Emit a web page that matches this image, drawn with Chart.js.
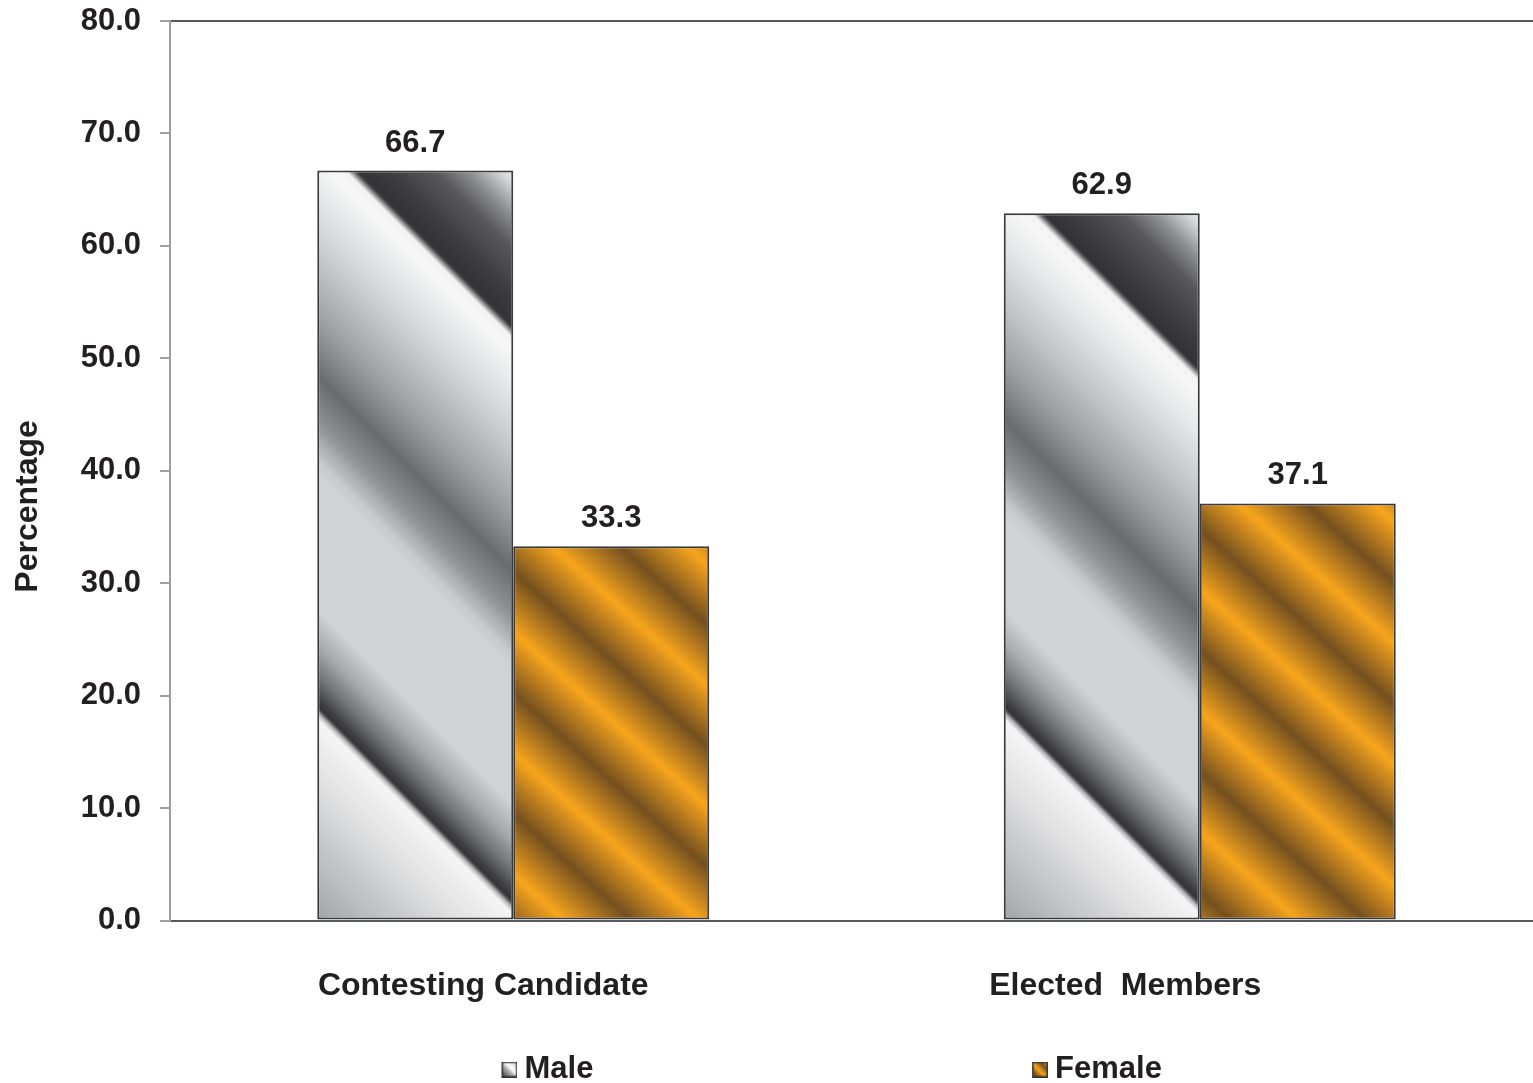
<!DOCTYPE html>
<html><head><meta charset="utf-8">
<script src="https://cdn.jsdelivr.net/npm/chart.js@4/dist/chart.umd.min.js"></script>
<style>html,body{margin:0;padding:0;background:#fff;overflow:hidden}#wrap{width:1543px;height:1083px}</style>
</head><body><div id="wrap"><canvas id="c" width="1543" height="1083"></canvas></div>
<script>
// ---- data ----
const categories = ['Contesting Candidate', 'Elected  Members'];
const seriesNames = ['Male', 'Female'];
const maleValues = [66.7, 62.9];
const femaleValues = [33.3, 37.1];
const yTickValues = [0, 10, 20, 30, 40, 50, 60, 70, 80];

// ---- style constants ----
const FONT = '"Liberation Sans", Arial, sans-serif';
const TEXT = '#231f20';
const CAT_PCT = 0.571, BAR_PCT = 1.0;
const X_LABEL_PAD = [0, 10];
const LEGEND_PAD = [46, 5];
const MALE_TOP = [[-196,'#ededed'],[-180,'#d2d3d5'],[-150,'#8e8f91'],[-117,'#58585a'],[-70,'#3d3d3f'],[-40,'#333335'],[-37,'#4d4d4f'],[-33,'#9a9a9c'],[-28,'#f2f2f2'],[-15,'#f7f7f7'],[30,'#e4e5e6'],[90,'#c3c4c6'],[150,'#9b9da0'],[205,'#6a6b6e'],[250,'#8e9093'],[290,'#c9cacc'],[305,'#d1d2d4']];
const MALE_BOTTOM = [[-312,'#d1d2d4'],[-277,'#a9aaac'],[-247,'#76777a'],[-222,'#404042'],[-215,'#333335'],[-212,'#58585a'],[-208,'#b5b5b7'],[-202,'#f5f5f5'],[-147,'#e3e3e4'],[-67,'#c0c1c3'],[0,'#a2a3a5']];

Chart.defaults.font.family = FONT;
Chart.defaults.color = TEXT;

function barRect(ctx) {
  const chart = ctx.chart, xs = chart.scales.x, ys = chart.scales.y;
  if (!xs || !ys || ctx.dataIndex === undefined) return null;
  const n = chart.data.labels.length, nd = chart.data.datasets.length;
  const catW = (xs.right - xs.left) / n * CAT_PCT;
  const slot = catW / nd, bw = slot * BAR_PCT;
  const cx = xs.getPixelForValue(ctx.dataIndex);
  const L = cx - catW / 2 + ctx.datasetIndex * slot + (slot - bw) / 2;
  const T = ys.getPixelForValue(ctx.raw), B = ys.getPixelForValue(0);
  return {L, T, W: bw, H: B - T};
}
function maleGradient(c, L, T, W, H) {
  const g = c.createLinearGradient(L + W, T, L + W - (H + W) / 2, T + (H + W) / 2);
  let last = -1;
  const add = (s, col) => { let o = (s + W) / (H + W); o = Math.min(1, Math.max(0, o)); if (o >= last) { g.addColorStop(o, col); last = o; } };
  MALE_TOP.forEach(([s, col]) => { if (s < H - 330) add(s, col); });
  MALE_BOTTOM.forEach(([s, col]) => add(H + s, col));
  return g;
}
function femaleGradient(c, L, T, W, H) {
  const ang = 42 * Math.PI / 180, nx = -Math.sin(ang), ny = Math.cos(ang);
  const x0 = L + W, y0 = T;
  const pMin = -150, pMax = Math.sin(ang) * W + Math.cos(ang) * H + 150;
  const g = c.createLinearGradient(x0 + nx * pMin, y0 + ny * pMin, x0 + nx * pMax, y0 + ny * pMax);
  const period = 90, phase = 60;
  const stops = [];
  for (let k = -4; k < 40; k++) {
    stops.push([phase + k * period, '#74501f']);
    stops.push([phase + k * period + period / 2, '#f8a51c']);
  }
  stops.forEach(([p, col]) => { const o = (p - pMin) / (pMax - pMin); if (o >= 0 && o <= 1) g.addColorStop(o, col); });
  return g;
}
function makeIcon(kind) {
  const cv = document.createElement('canvas'); cv.width = 18; cv.height = 16;
  const c = cv.getContext('2d');
  const g = c.createLinearGradient(18, 0, 2, 16);
  if (kind === 0) {
    g.addColorStop(0, '#c8c9cb'); g.addColorStop(0.42, '#ffffff'); g.addColorStop(0.55, '#b5b6b8'); g.addColorStop(1, '#2f2f31');
  } else {
    g.addColorStop(0, '#f7a41d'); g.addColorStop(0.28, '#76501f'); g.addColorStop(0.55, '#f7a41d'); g.addColorStop(0.82, '#76501f'); g.addColorStop(1, '#f7a41d');
  }
  c.fillStyle = g; c.fillRect(2, 0, 16, 16);
  c.strokeStyle = '#333335'; c.lineWidth = 1.5; c.strokeRect(2.75, 0.75, 14.5, 14.5);
  return cv;
}
const icons = [makeIcon(0), makeIcon(1)];

const valueLabels = {
  id: 'valueLabels',
  afterDatasetsDraw(chart) {
    const c = chart.ctx;
    c.save();
    c.font = 'bold 31px ' + FONT; c.fillStyle = TEXT; c.textAlign = 'center'; c.textBaseline = 'alphabetic';
    chart.data.datasets.forEach((ds, di) => {
      chart.getDatasetMeta(di).data.forEach((bar, i) => { c.fillText(ds.data[i].toFixed(1), bar.x, bar.y - 19); });
    });
    c.restore();
  }
};

new Chart(document.getElementById('c'), {
  type: 'bar',
  data: {
    labels: categories,
    datasets: [
      { label: seriesNames[0], data: maleValues,
        backgroundColor: (ctx) => { const r = barRect(ctx); return r ? maleGradient(ctx.chart.ctx, r.L, r.T, r.W, r.H) : '#b0b1b3'; },
        borderColor: '#3a3a3c', borderWidth: 2, borderSkipped: false,
        categoryPercentage: CAT_PCT, barPercentage: BAR_PCT },
      { label: seriesNames[1], data: femaleValues,
        backgroundColor: (ctx) => { const r = barRect(ctx); return r ? femaleGradient(ctx.chart.ctx, r.L, r.T, r.W, r.H) : '#f7a41d'; },
        borderColor: '#3a3a3c', borderWidth: 2, borderSkipped: false,
        categoryPercentage: CAT_PCT, barPercentage: BAR_PCT }
    ]
  },
  options: {
    responsive: false,
    animation: false,
    devicePixelRatio: 1,
    layout: { padding: { top: 21, right: 0, bottom: -12, left: 0 } },
    plugins: {
      tooltip: { enabled: false },
      legend: {
        position: 'bottom',
        fullSize: false,
        labels: {
          usePointStyle: true,
          pointStyleWidth: 1,
          padding: 49,
          color: TEXT,
          font: { size: 31, weight: 'bold' },
          generateLabels: (chart) => chart.data.datasets.map((ds, i) => ({
            text: ds.label + ' '.repeat(LEGEND_PAD[i]),
            pointStyle: icons[i],
            fillStyle: 'transparent', strokeStyle: 'transparent', lineWidth: 0,
            datasetIndex: i, hidden: false, fontColor: TEXT
          }))
        }
      }
    },
    scales: {
      x: {
        grid: { display: false, drawTicks: false },
        border: { display: true, color: '#58595b', width: 2 },
        afterFit: (s) => { s.height -= s.options.ticks.padding; },
        ticks: {
          font: { size: 32, weight: 'bold' }, color: TEXT, padding: 46, labelOffset: -30,
          maxRotation: 0, autoSkip: false,
          callback: (v, i) => categories[i] + ' '.repeat(X_LABEL_PAD[i])
        }
      },
      y: {
        min: yTickValues[0], max: yTickValues[yTickValues.length - 1],
        afterBuildTicks: (s) => { s.ticks = yTickValues.map(v => ({ value: v })); },
        afterFit: (s) => { s.width = 170; s.paddingTop = 0; s.paddingBottom = 0; },
        grid: {
          color: (ctx) => (ctx.tick && ctx.tick.value === yTickValues[yTickValues.length - 1]) ? '#58595b' : 'rgba(0,0,0,0)',
          lineWidth: 2, tickColor: '#9d9fa2', tickLength: 10, tickWidth: 2, drawOnChartArea: true
        },
        border: { display: true, color: '#9d9fa2', width: 2 },
        ticks: { font: { size: 31, weight: 'bold' }, color: TEXT, padding: 19, callback: (v) => Number(v).toFixed(1) },
        title: { display: true, text: 'Percentage' + ' '.repeat(8), font: { size: 32, weight: 'bold' }, color: TEXT, padding: { top: 9, bottom: 0 } }
      }
    }
  },
  plugins: [valueLabels]
});
</script>
</body></html>
